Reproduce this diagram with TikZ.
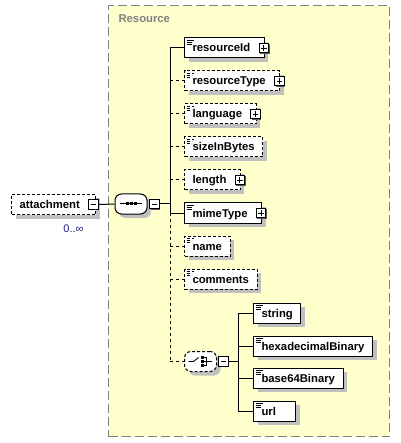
\documentclass[tikz,border=0pt]{standalone}
\usepackage{fontspec}
\setmainfont{Liberation Sans}
\usetikzlibrary{positioning, calc, shadows}
\definecolor{resyellow}{HTML}{FFFFCC}
\definecolor{resgray}{HTML}{808080}
\definecolor{shadegray}{HTML}{C0C0C0}
\definecolor{occnavy}{HTML}{1A1A80}
\tikzset{
  x=1pt, y=-1pt,
  font=\fontsize{11.3}{13}\selectfont\bfseries,
  shade/.style={general shadow={fill=shadegray, draw=none, shadow xshift=4pt, shadow yshift=-4pt}},
  elem/.style={
    draw=black, fill=white, line width=1pt, anchor=west, shade,
    inner xsep=8pt, inner ysep=0pt, minimum height=20pt,
    text height=9pt, text depth=1pt
  },
  optbox/.style={elem, dash pattern=on 3pt off 2pt},
  doc/.style={path picture={
    \draw[line width=0.7pt]
      ([xshift=2pt,yshift=-2.5pt]path picture bounding box.north west) -- ++(7pt,0pt)
      ([xshift=2pt,yshift=-4.5pt]path picture bounding box.north west) -- ++(5pt,0pt)
      ([xshift=2pt,yshift=-6.5pt]path picture bounding box.north west) -- ++(5pt,0pt);
  }},
  pm/.style={
    draw=black, fill=white, line width=1pt, minimum size=9.5pt, inner sep=0pt,
    general shadow={fill=black!65, draw=none, shadow xshift=1pt, shadow yshift=-1pt}
  },
  plus/.style={pm, path picture={
    \draw[line width=0.9pt]
      ([xshift=2pt]path picture bounding box.west) -- ([xshift=-2pt]path picture bounding box.east)
      ([yshift=-2pt]path picture bounding box.north) -- ([yshift=2pt]path picture bounding box.south);
  }},
  minus/.style={pm, path picture={
    \draw[line width=0.9pt]
      ([xshift=2pt]path picture bounding box.west) -- ([xshift=-2pt]path picture bounding box.east);
  }},
  comp/.style={
    draw=black, fill=white, line width=1pt, rounded corners=6.5pt,
    minimum width=32pt, minimum height=20pt, inner sep=0pt, shade
  },
  resbox/.style={draw=resgray, fill=resyellow, line width=1.3pt, dash pattern=on 9pt off 4pt},
  reslab/.style={text=resgray, anchor=base west},
  link/.style={line width=1pt},
  optlink/.style={line width=1pt, dash pattern=on 3pt off 3pt}
}
\begin{document}
\begin{tikzpicture}
  \useasboundingbox (0,0) rectangle (400,443);
  % group
  \node[resbox, anchor=north west, minimum width=281pt, minimum height=431pt] (res) at (108,5) {};
  \node[reslab] (restitle) at (115,23) {Resource};

  % root element and sequence
  \node[optbox] (att) at (11,204.5) {attachment\hspace*{8pt}};
  \node[minus] (attpm) at ([xshift=-3pt]att.east) {};
  \node[font=\fontsize{11}{13}\selectfont, text=occnavy, anchor=base east] (attocc) at (87,232) {0..∞};
  \node[comp] (seq) at (131,204) {};
  \node[minus] (seqpm) at (154.5,204) {};
  \draw[link] ([xshift=-11pt]seq.center) -- ([xshift=11pt]seq.center);
  \foreach \dx in {-4,0,4}
    \fill ([xshift=\dx pt]seq.center) +(-1.5,-1.5) rectangle +(1.5,1.5);
  \coordinate (bus) at (170,204);

  % children of the sequence
  \node[elem,doc] (rid) at (184,48) {resourceId\hspace*{6pt}};
  \node[plus] (ridpm) at ([xshift=-1pt]rid.east) {};
  \node[optbox,doc] (rtype) at (184,81) {resourceType\hspace*{6pt}};
  \node[plus] (rtypepm) at ([xshift=-1pt]rtype.east) {};
  \node[optbox,doc] (lang) at (184,114) {language\hspace*{6pt}};
  \node[plus] (langpm) at ([xshift=-1pt]lang.east) {};
  \node[optbox,doc] (size) at (184,147) {sizeInBytes};
  \node[optbox] (len) at (184,180) {length\hspace*{6pt}};
  \node[plus] (lenpm) at ([xshift=-1pt]len.east) {};
  \node[elem,doc] (mime) at (184,213) {mimeType\hspace*{6pt}};
  \node[plus] (mimepm) at ([xshift=-1pt]mime.east) {};
  \node[optbox,doc] (nm) at (184,246) {name};
  \node[optbox,doc] (comm) at (184,279) {comments};

  % choice
  \node[comp, dash pattern=on 3pt off 2pt] (choice) at (200.5,361.5) {};
  \begin{scope}[shift={(choice.center)}]
    \draw[line width=0.9pt] (-12,0) -- (-7,0) -- (-2,-4);
    \foreach \dy in {-4,0,4}
      \fill (0,\dy) +(0,-1.3) rectangle +(3,1.3);
    \draw[line width=0.9pt] (3,-4) -- (6,-4) -- (6,4) -- (3,4) (3,0) -- (11,0);
  \end{scope}
  \node[minus] (choicepm) at (223.5,361.5) {};
  \coordinate (cbus) at (238,361.5);
  \node[elem,doc] (str) at (253,313) {string};
  \node[elem,doc] (hex) at (253,346) {hexadecimalBinary};
  \node[elem,doc] (b64) at (253,378) {base64Binary};
  \node[elem,doc] (url) at (253,411) {url\hspace*{12pt}};

  % connectors
  \draw[link] (attpm.east) -- (seq.west);
  \draw[link] (seqpm.east) -- (bus);
  \draw[link] (bus |- rid.west) -- (bus |- mime.west);
  \draw[optlink] (bus |- mime.west) -- (bus |- choice.west);
  \foreach \n in {rid, mime}
    \draw[link] (bus |- \n.west) -- (\n.west);
  \foreach \n in {rtype, lang, size, len, nm, comm, choice}
    \draw[optlink] (bus |- \n.west) -- (\n.west);
  \draw[link] (choicepm.east) -- (cbus);
  \draw[link] (cbus |- str.west) -- (cbus |- url.west);
  \foreach \n in {str, hex, b64, url}
    \draw[link] (cbus |- \n.west) -- (\n.west);
\end{tikzpicture}
\end{document}
